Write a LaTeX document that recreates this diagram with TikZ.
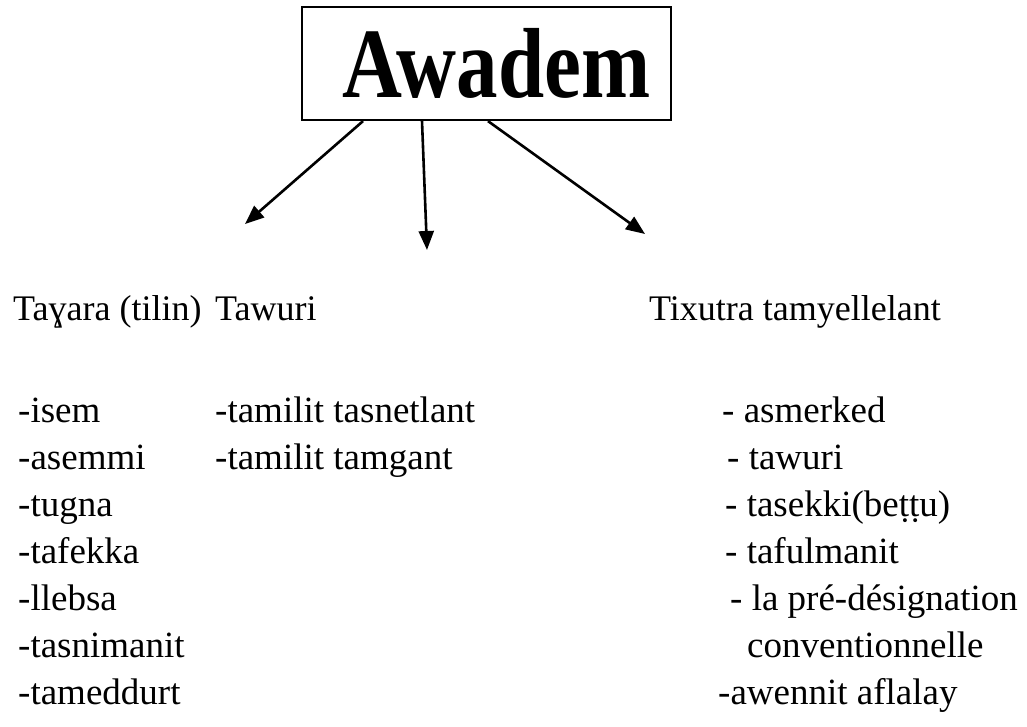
\documentclass[tikz,border=0pt]{standalone}
\usepackage{fontspec}
\setmainfont{Liberation Serif}
\usetikzlibrary{arrows.meta}
\begin{document}
\begin{tikzpicture}[x=1pt,y=-1pt]
        \tikzstyle{title}=[draw=black,line width=2.2pt,minimum width=369pt,minimum height=113pt,inner sep=0pt,font=\bfseries\fontsize{83}{83}\selectfont]
        \tikzstyle{head}=[anchor=base west,inner sep=0pt,font=\fontsize{36}{36}\selectfont]
        \tikzstyle{item}=[anchor=base west,inner sep=0pt,font=\fontsize{37}{37}\selectfont]
        \tikzstyle{edge}=[draw,line width=2.6pt,-{Triangle[length=19pt,width=15pt]}]
        \useasboundingbox (0,0) rectangle (1027,726);
        \begin{scope}
                \node [title] (awadem) at (486.5,63.5) {\hspace*{20pt}\scalebox{1}[1.2]{Awadem}};
                % arrow ends
                \coordinate (endL) at (245,224);
                \coordinate (endM) at (427,250);
                \coordinate (endR) at (645,234);
                \path[edge] ([xshift=-123.5pt]awadem.south) -- (endL);
                \path[edge] ([xshift=-64.5pt]awadem.south) -- (endM);
                \path[edge] ([xshift=1.5pt]awadem.south) -- (endR);
                % headings
                \node [head] (tayara) at (13,320) {Taɣara (tilin)};
                \node [head] (tawuri) at (215,320) {Tawuri};
                \node [head] (tixutra) at (649,320) {Tixutra tamyellelant};
                % Tayara
                \node [item] (isem) at (18,422) {-isem};
                \node [item] (asemmi) at (18,469) {-asemmi};
                \node [item] (tugna) at (18,516) {-tugna};
                \node [item] (tafekka) at (18,563) {-tafekka};
                \node [item] (llebsa) at (18,610) {-llebsa};
                \node [item] (tasnimanit) at (18,657) {-tasnimanit};
                \node [item] (tameddurt) at (18,704) {-tameddurt};
                % Tawuri
                \node [item] (tasnetlant) at (215,422) {-tamilit tasnetlant};
                \node [item] (tamgant) at (215,469) {-tamilit tamgant};
                % Tixutra
                \node [item] (asmerked) at (722,422) {- asmerked};
                \node [item] (tawuri2) at (727,469) {- tawuri};
                \node [item] (tasekki) at (725,516) {- tasekki(beṭṭu)};
                \node [item] (tafulmanit) at (725,563) {- tafulmanit};
                \node [item] (predesign) at (730,610) {- la pré-désignation};
                \node [item] (conv) at (747,657) {conventionnelle};
                \node [item] (awennit) at (718,704) {-awennit aflalay};
        \end{scope}
\end{tikzpicture}
\end{document}
